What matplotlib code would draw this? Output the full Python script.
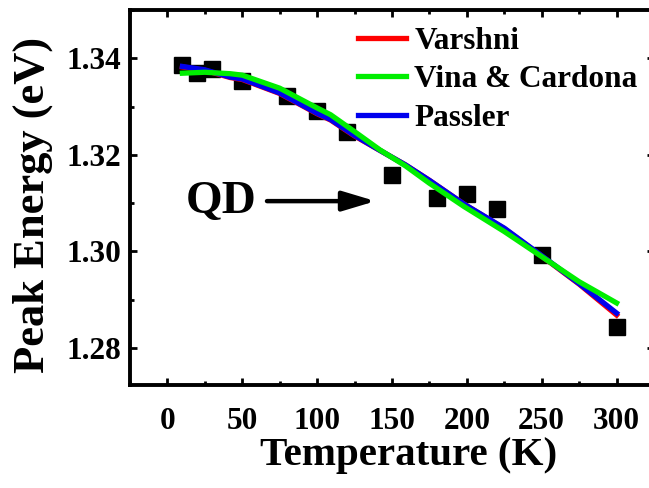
import matplotlib
matplotlib.use("Agg")
import matplotlib.pyplot as plt
from matplotlib.ticker import MultipleLocator, FormatStrFormatter

plt.rcParams['font.family'] = ['Liberation Serif', 'DejaVu Serif']
plt.rcParams['font.weight'] = 'bold'

# measured data
temp_data = [10, 20, 30, 50, 80, 100, 120, 150, 180, 200, 220, 250, 300]
energy_data = [1.3387, 1.3369, 1.3378, 1.3352, 1.3322, 1.3290, 1.3248,
               1.3159, 1.3110, 1.3119, 1.3088, 1.2993, 1.2843]

# fit curves
temp_fit = [10, 25, 42, 50, 75, 100, 109, 125, 142, 159, 175, 198, 225, 250, 275, 300]
varshni = [1.3382, 1.3375, 1.3360, 1.3356, 1.3327, 1.3285, 1.3272, 1.3239, 1.3209,
           1.3179, 1.3147, 1.3098, 1.3047, 1.2990, 1.2932, 1.2868]
vina = [1.3369, 1.3371, 1.3368, 1.3365, 1.3338, 1.3297, 1.3283, 1.3248, 1.3210,
        1.3177, 1.3141, 1.3093, 1.3041, 1.2989, 1.2937, 1.2893]
passler = [1.3383, 1.3376, 1.3361, 1.3357, 1.3328, 1.3286, 1.3273, 1.3240, 1.3209,
           1.3179, 1.3147, 1.3098, 1.3048, 1.2991, 1.2933, 1.2872]

W, H = 649, 488
fig = plt.figure(figsize=(W / 100, H / 100), dpi=100)
left, right, top, bottom = 130, 654, 10, 385
ax = fig.add_axes([left / W, 1 - bottom / H, (right - left) / W, (bottom - top) / H])

ax.plot(temp_fit, varshni, color='#ff0000', lw=3.8, label='Varshni', zorder=3)
ax.plot(temp_fit, vina, color='#00ee00', lw=3.8, label='Vina & Cardona', zorder=4)
ax.plot(temp_fit, passler, color='#0000ee', lw=3.8, label='Passler', zorder=3.5)
ax.plot(temp_data, energy_data, 's', color='black', ms=12, zorder=2)

ax.set_xlim(-25, 325)
ax.set_ylim(1.2723, 1.3500)
ax.xaxis.set_major_locator(MultipleLocator(50))
ax.xaxis.set_minor_locator(MultipleLocator(25))
ax.yaxis.set_major_locator(MultipleLocator(0.02))
ax.yaxis.set_minor_locator(MultipleLocator(0.01))
ax.yaxis.set_major_formatter(FormatStrFormatter('%.2f'))

for s in ax.spines.values():
    s.set_linewidth(2.8)
ax.tick_params(which='both', direction='in', top=True, right=True, width=2)
ax.tick_params(which='major', length=5)
ax.tick_params(which='minor', length=3)
ax.tick_params(axis='x', which='major', labelsize=22.5, pad=16)
ax.tick_params(axis='y', which='major', labelsize=22.5, pad=6)

fig.text(33 / W, 1 - 204.5 / H, 'Peak Energy (eV)', rotation=90, ha='center',
         va='center', fontsize=32, fontweight='bold')
fig.text(409 / W, 1 - 455 / H, 'Temperature (K)', ha='center', va='center',
         fontsize=29.5, fontweight='bold')

ax.text(35.6, 1.3103, 'QD', fontsize=34, fontweight='bold', ha='center', va='center')
ax.annotate('', xy=(139, 1.3104), xytext=(66.5, 1.3104),
            arrowprops=dict(arrowstyle='-|>,head_length=2.0,head_width=0.6',
                            color='black', lw=3.2, shrinkA=0, shrinkB=0))

leg = ax.legend(loc='upper left', bbox_to_anchor=(358 / W, 1 - 27 / H),
                bbox_transform=fig.transFigure, frameon=False, fontsize=22.5,
                borderpad=0, borderaxespad=0, handlelength=1.54,
                handletextpad=0.26, labelspacing=0.3)
for line in leg.get_lines():
    line.set_linewidth(3.8)

fig.savefig('out.png', dpi=100)
